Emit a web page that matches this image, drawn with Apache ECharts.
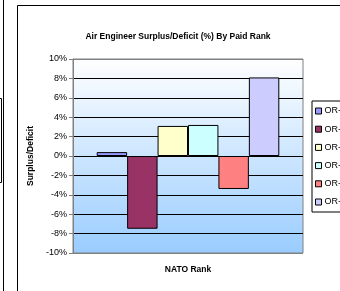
<!DOCTYPE html>
<html>
<head>
<meta charset="utf-8">
<script src="https://cdn.jsdelivr.net/npm/echarts@6/dist/echarts.min.js"></script>
<style>
  html, body { margin: 0; padding: 0; background: #fff; }
  #chart { width: 340px; height: 291px; }
</style>
</head>
<body>
<div id="chart"></div>
<script>
  // --- DATA ---
  const ranks = ['OR-9', 'OR-8', 'OR-7', 'OR-6', 'OR-4', 'OR-3'];
  const surplusPct = [0.4, -7.5, 3.1, 3.2, -3.4, 8.1];
  const barColors = ['#9999FF', '#993366', '#FFFFCC', '#CCFFFF', '#FF8080', '#CCCCFF'];
  const yTicks = { min: -10, max: 10, step: 2 };

  const font = "'Liberation Sans', Arial, sans-serif";
  const chart = echarts.init(document.getElementById('chart'), null, { renderer: 'canvas' });

  // top and bottom split lines act as the plot border, so grey; inner ones black
  const splitColors = [];
  for (let v = yTicks.min; v <= yTicks.max; v += yTicks.step) {
    splitColors.push(v === yTicks.min || v === yTicks.max ? '#808080' : '#000000');
  }

  const series = ranks.map((name, i) => ({
    name: name,
    type: 'bar',
    data: [surplusPct[i]],
    barGap: '0%',
    barCategoryGap: '20.6%',
    itemStyle: { color: barColors[i], borderColor: '#000', borderWidth: 1 }
  }));

  chart.setOption({
    animation: false,
    backgroundColor: '#fff',
    title: {
      text: 'Air Engineer Surplus/Deficit (%) By Paid Rank',
      left: 178,
      top: 32,
      textAlign: 'center',
      padding: 0,
      textStyle: { fontFamily: font, fontSize: 8.5, fontWeight: 'bold', color: '#000' }
    },
    legend: {
      orient: 'vertical',
      left: 312,
      top: 101,
      padding: [4, 40, 4, 3],
      itemGap: 6.2,
      itemWidth: 6,
      itemHeight: 6,
      icon: 'rect',
      borderColor: '#000',
      borderWidth: 1,
      itemStyle: { borderColor: '#000', borderWidth: 1 },
      textStyle: { fontFamily: font, fontSize: 9, color: '#000', lineHeight: 12, padding: [0, 0, 0, -2] },
      data: ranks
    },
    grid: {
      left: 73, top: 59, width: 230, height: 194,
      show: true,
      borderColor: '#808080',
      borderWidth: 1,
      backgroundColor: {
        type: 'linear', x: 0, y: 0, x2: 0, y2: 1,
        colorStops: [{ offset: 0, color: '#FFFFFF' }, { offset: 1, color: '#99CCFF' }]
      }
    },
    xAxis: {
      type: 'category',
      data: [''],
      name: 'NATO Rank',
      nameLocation: 'middle',
      nameGap: 12,
      nameTextStyle: { fontFamily: font, fontSize: 8.5, fontWeight: 'bold', color: '#000', verticalAlign: 'top' },
      axisLine: { show: false, onZero: false },
      axisTick: { show: false },
      axisLabel: { show: false },
      splitLine: { show: false }
    },
    yAxis: {
      type: 'value',
      min: yTicks.min,
      max: yTicks.max,
      interval: yTicks.step,
      name: 'Surplus/Deficit',
      nameLocation: 'middle',
      nameGap: 28,
      nameTextStyle: { fontFamily: font, fontSize: 8.5, fontWeight: 'bold', color: '#000' },
      axisLine: { show: true, lineStyle: { color: '#808080', width: 1 } },
      axisTick: { show: true, length: 4, lineStyle: { color: '#808080' } },
      axisLabel: {
        formatter: '{value}%',
        margin: 6,
        fontFamily: font, fontSize: 9, color: '#000'
      },
      splitLine: { show: true, lineStyle: { color: splitColors, width: 1 } }
    },
    graphic: [
      // neighbouring chart edge and this chart's frame
      { type: 'line', shape: { x1: 3.5, y1: 0, x2: 3.5, y2: 291 }, style: { stroke: '#000', lineWidth: 1 } },
      { type: 'polyline', shape: { points: [[0, 98.5], [1.5, 98.5], [1.5, 182.5], [0, 182.5]] }, style: { stroke: '#000', lineWidth: 1, fill: null } },
      { type: 'polyline', shape: { points: [[17.5, 291], [17.5, 5.5], [340, 5.5]] }, style: { stroke: '#000', lineWidth: 1, fill: null } }
    ],
    series: series
  });
</script>
</body>
</html>
